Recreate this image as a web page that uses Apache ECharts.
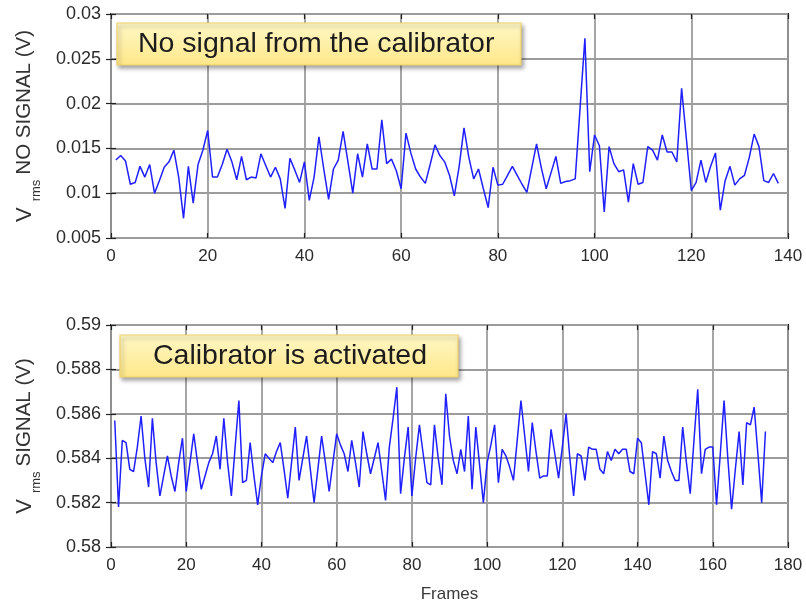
<!DOCTYPE html>
<html>
<head>
<meta charset="utf-8">
<script src="https://cdn.jsdelivr.net/npm/echarts@6/dist/echarts.min.js"></script>
<style>
html,body{margin:0;padding:0;background:#fff;}
#chart{width:806px;height:604px;}
</style>
</head>
<body>
<div id="chart"></div>
<script>
// ---- data ----
var topTitle = 'No signal from the calibrator';
var bottomTitle = 'Calibrator is activated';
var xName = 'Frames';
var topXTicks = [0, 20, 40, 60, 80, 100, 120, 140];
var topYTicks = [0.005, 0.01, 0.015, 0.02, 0.025, 0.03];
var bottomXTicks = [0, 20, 40, 60, 80, 100, 120, 140, 160, 180];
var bottomYTicks = [0.58, 0.582, 0.584, 0.586, 0.588, 0.59];

// Vrms with no signal, frames 1..138
var noSignal = [
0.0137,0.0142,0.0136,0.0110,0.0112,0.0130,0.0118,0.0132,0.0100,0.0114,
0.0129,0.0135,0.0148,0.0118,0.0072,0.0130,0.0089,0.0132,0.0148,0.0170,
0.0118,0.0118,0.0132,0.0149,0.0135,0.0115,0.0141,0.0115,0.0118,0.0117,
0.0144,0.0131,0.0118,0.0129,0.0116,0.0083,0.0139,0.0126,0.0112,0.0135,
0.0092,0.0118,0.0163,0.0127,0.0093,0.0127,0.0137,0.0169,0.0135,0.0100,
0.0144,0.0118,0.0155,0.0127,0.0127,0.0182,0.0133,0.0138,0.0125,0.0105,
0.0167,0.0145,0.0127,0.0118,0.0111,0.0132,0.0154,0.0142,0.0135,0.0120,
0.0097,0.0130,0.0173,0.0140,0.0116,0.0127,0.0105,0.0084,0.0129,0.0109,
0.0110,0.0120,0.0130,0.0120,0.0110,0.0101,0.0128,0.0155,0.0128,0.0105,
0.0123,0.0141,0.0111,0.0113,0.0114,0.0116,0.0195,0.0273,0.0124,0.0165,
0.0153,0.0079,0.0152,0.0133,0.0124,0.0126,0.0090,0.0133,0.0110,0.0112,
0.0152,0.0148,0.0137,0.0165,0.0146,0.0146,0.0135,0.0217,0.0160,0.0103,
0.0112,0.0137,0.0112,0.0130,0.0145,0.0081,0.0114,0.0130,0.0109,0.0116,
0.0120,0.0140,0.0166,0.0152,0.0114,0.0112,0.0122,0.0111
];

// Vrms with signal, frames 1..174
var withSignal = [
0.5857,0.5818,0.5848,0.5847,0.5835,0.5834,0.5845,0.5859,0.5840,0.5827,
0.5858,0.5838,0.5823,0.5832,0.5841,0.5832,0.5825,0.5838,0.5849,0.5825,
0.5838,0.5851,0.5838,0.5826,0.5832,0.5838,0.5842,0.5850,0.5835,0.5858,
0.5838,0.5823,0.5845,0.5866,0.5829,0.5830,0.5847,0.5832,0.5819,0.5832,
0.5842,0.5840,0.5838,0.5843,0.5847,0.5835,0.5822,0.5838,0.5854,0.5830,
0.5840,0.5850,0.5835,0.5820,0.5835,0.5850,0.5838,0.5825,0.5838,0.5851,
0.5846,0.5842,0.5834,0.5848,0.5838,0.5827,0.5852,0.5842,0.5833,0.5840,
0.5847,0.5834,0.5821,0.5845,0.5858,0.5872,0.5824,0.5840,0.5854,0.5823,
0.5840,0.5855,0.5842,0.5829,0.5828,0.5855,0.5840,0.5828,0.5869,0.5850,
0.5839,0.5833,0.5844,0.5834,0.5859,0.5826,0.5854,0.5837,0.5820,0.5838,
0.5846,0.5855,0.5829,0.5844,0.5841,0.5836,0.5830,0.5848,0.5866,0.5850,
0.5834,0.5856,0.5843,0.5831,0.5832,0.5832,0.5853,0.5842,0.5831,0.5845,
0.5860,0.5840,0.5823,0.5842,0.5841,0.5830,0.5845,0.5844,0.5844,0.5835,
0.5833,0.5843,0.5839,0.5844,0.5842,0.5844,0.5844,0.5834,0.5833,0.5849,
0.5847,0.5833,0.5819,0.5843,0.5842,0.5831,0.5850,0.5839,0.5834,0.5830,
0.5830,0.5854,0.5838,0.5824,0.5848,0.5871,0.5833,0.5844,0.5845,0.5845,
0.5819,0.5842,0.5866,0.5840,0.5817,0.5835,0.5852,0.5828,0.5856,0.5855,
0.5863,0.5842,0.5820,0.5852
];

// ---- build ----
function pairs(arr){ return arr.map(function(v,i){ return [i+1, v]; }); }
function fmt(v){ return String(parseFloat(v.toFixed(4))); }

var FONT = '"Liberation Sans", Arial, sans-serif';
var labelColor = '#2b2b2b';
var gridLine = { show:true, lineStyle:{ color:'#9c9c9c', width:1.8 } };
var tickIn = { show:true, inside:true, length:5, lineStyle:{ color:'#222', width:1.2 } };

function mainX(idx, ticks, withName){
  var o = {
    type:'value', gridIndex:idx, min:ticks[0], max:ticks[ticks.length-1],
    interval:ticks[1]-ticks[0],
    axisLine:{show:false}, axisTick:tickIn, splitLine:gridLine,
    axisLabel:{ color:labelColor, fontSize:17, fontFamily:FONT, margin:10 }
  };
  if (withName){
    o.name = xName; o.nameLocation='middle'; o.nameGap=39;
    o.nameTextStyle = { color:'#3a3a3a', fontSize:17, fontFamily:FONT };
  }
  return o;
}
function mirrorX(idx, ticks){
  return { type:'value', gridIndex:idx, position:'top', min:ticks[0], max:ticks[ticks.length-1],
    interval:ticks[1]-ticks[0], axisLine:{show:false}, axisTick:tickIn,
    axisLabel:{show:false}, splitLine:{show:false} };
}
function mainY(idx, ticks, label){
  return {
    type:'value', gridIndex:idx, min:ticks[0], max:ticks[ticks.length-1],
    interval: parseFloat((ticks[1]-ticks[0]).toFixed(6)),
    axisLine:{show:false}, axisTick:tickIn, splitLine:gridLine,
    axisLabel:{ color:labelColor, fontSize:18, fontFamily:FONT, margin:10, formatter:fmt },
    name:'{v|V}{s|rms}{t|' + label + '}', nameLocation:'middle', nameGap:75, nameRotate:90,
    nameTextStyle:{ fontFamily:FONT, color:'#333',
      rich:{
        v:{ fontSize:22, lineHeight:22, verticalAlign:'top', fontFamily:FONT, color:'#333' },
        s:{ fontSize:13, lineHeight:13, padding:[16,5,0,6], verticalAlign:'top', fontFamily:FONT, color:'#333' },
        t:{ fontSize:20.5, lineHeight:22, verticalAlign:'top', fontFamily:FONT, color:'#333' }
      } }
  };
}
function mirrorY(idx, ticks){
  return { type:'value', gridIndex:idx, position:'right', min:ticks[0], max:ticks[ticks.length-1],
    interval: parseFloat((ticks[1]-ticks[0]).toFixed(6)),
    axisLine:{show:false}, axisTick:tickIn, axisLabel:{show:false}, splitLine:{show:false} };
}

function box(x, y, w, h, text, tx){
  return [
    { type:'rect', z:100, shape:{ x:x, y:y, width:w, height:h },
      style:{ fill:{ type:'linear', x:0, y:0, x2:0, y2:1,
                colorStops:[{offset:0,color:'#fff7c6'},{offset:1,color:'#ffe889'}] },
              stroke:'#efd26a', lineWidth:1.2,
              shadowBlur:4, shadowOffsetX:2, shadowOffsetY:3, shadowColor:'rgba(0,0,0,0.35)' } },
    { type:'text', z:101, x:tx, y:y + h/2,
      style:{ text:text, font:'28.5px ' + FONT, fill:'#1c1c1c', verticalAlign:'middle', align:'left' } }
  ];
}

var chart = echarts.init(document.getElementById('chart'), null, { renderer:'canvas' });
chart.setOption({
  backgroundColor:'#ffffff',
  animation:false,
  grid:[
    { left:111, top:14, width:677, height:224, show:true, borderColor:'#1e1e1e', borderWidth:2, backgroundColor:'#fff' },
    { left:111, top:325, width:677, height:223, show:true, borderColor:'#1e1e1e', borderWidth:2, backgroundColor:'#fff' }
  ],
  xAxis:[ mainX(0, topXTicks, false), mirrorX(0, topXTicks), mainX(1, bottomXTicks, true), mirrorX(1, bottomXTicks) ],
  yAxis:[ mainY(0, topYTicks, 'NO SIGNAL (V)'), mirrorY(0, topYTicks), mainY(1, bottomYTicks, 'SIGNAL (V)'), mirrorY(1, bottomYTicks) ],
  series:[
    { type:'line', xAxisIndex:0, yAxisIndex:0, data:pairs(noSignal), showSymbol:false, symbol:'none',
      lineStyle:{ color:'#1f1fff', width:1.5 }, z:5 },
    { type:'line', xAxisIndex:2, yAxisIndex:2, data:pairs(withSignal), showSymbol:false, symbol:'none',
      lineStyle:{ color:'#1f1fff', width:1.5 }, z:5 }
  ],
  graphic: box(117, 23, 404, 42, topTitle, 138).concat(box(120, 335, 338, 42, bottomTitle, 153))
});
</script>
</body>
</html>
